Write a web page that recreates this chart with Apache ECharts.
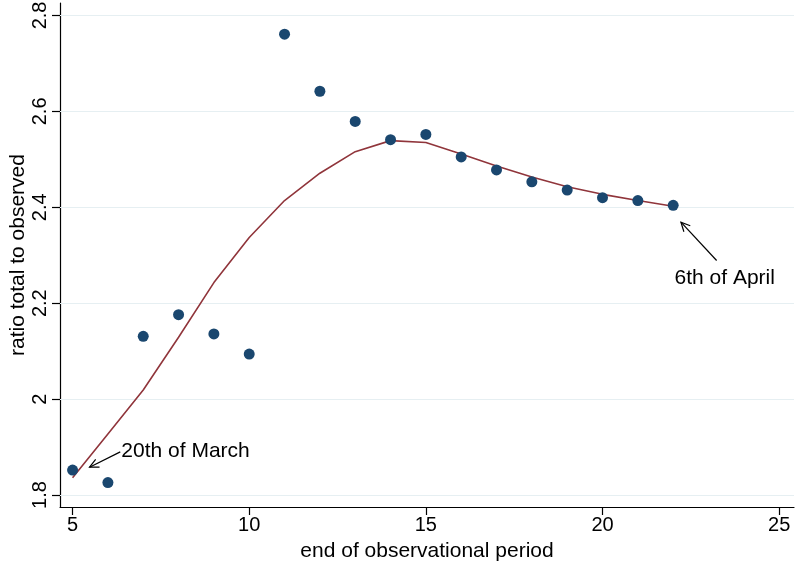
<!DOCTYPE html>
<html><head><meta charset="utf-8">
<script src="https://cdn.jsdelivr.net/npm/echarts@6/dist/echarts.min.js"></script>
<style>html,body{margin:0;padding:0;background:#fff}#c{width:795px;height:565px}</style>
</head><body><div id="c"></div>
<script>
// ---- data ----
const periods = [5,6,7,8,9,10,11,12,13,14,15,16,17,18,19,20,21,22];
const observedRatio = [1.852,1.826,2.131,2.176,2.136,2.094,2.761,2.642,2.579,2.541,2.552,2.505,2.478,2.453,2.436,2.420,2.414,2.404];
const fittedRatio = [1.836,1.927,2.019,2.129,2.243,2.337,2.414,2.471,2.516,2.539,2.535,2.511,2.486,2.463,2.443,2.427,2.414,2.402];
const xTicks = [5,10,15,20,25];
const yTicks = [1.8,2,2.2,2.4,2.6,2.8];
const annoLabels = ['20th of March','6th of April'];
const annoTextAt = [[6.38,1.892],[23.46,2.253]];
const annoArrowFrom = [[6.35,1.890],[23.23,2.289]];
const annoArrowTo = [[5.48,1.858],[22.22,2.369]];

const FONT = '"Liberation Sans", Arial, sans-serif';
const chart = echarts.init(document.getElementById('c'), null, {renderer:'canvas'});

const scatterData = periods.map((p,i)=>[p, observedRatio[i]]);
const lineData = periods.map((p,i)=>[p, fittedRatio[i]]);
const annoData = annoLabels.map((t,i)=>[annoTextAt[i][0],annoTextAt[i][1],annoArrowFrom[i][0],annoArrowFrom[i][1],annoArrowTo[i][0],annoArrowTo[i][1], i]);

chart.setOption({
  animation:false,
  backgroundColor:'#fff',
  grid:{left:60, right:1, top:3, bottom:58, containLabel:false, outerBoundsMode:'none'},
  xAxis:{
    type:'value', min:4.644, max:25.42,
    name:'end of observational period', nameLocation:'middle', nameGap:34, nameMoveOverlap:false,
    nameTextStyle:{fontFamily:FONT, fontSize:21, color:'#000'},
    axisLine:{show:true, onZero:false, lineStyle:{color:'#000', width:1.2}},
    axisTick:{show:true, inside:false, length:8, customValues:xTicks, lineStyle:{color:'#000', width:1.2}},
    axisLabel:{customValues:xTicks, margin:8, fontFamily:FONT, fontSize:20, color:'#000'},
    splitLine:{show:false}
  },
  yAxis:{
    type:'value', min:1.775, max:2.826,
    name:'ratio total to observed', nameLocation:'middle', nameGap:31, nameRotate:90, nameMoveOverlap:false,
    nameTextStyle:{fontFamily:FONT, fontSize:21, color:'#000'},
    axisLine:{show:true, onZero:false, lineStyle:{color:'#000', width:1.2}},
    axisTick:{show:true, inside:false, length:8, customValues:yTicks, lineStyle:{color:'#000', width:1.2}},
    axisLabel:{customValues:yTicks, rotate:90, margin:10, fontFamily:FONT, fontSize:20, color:'#000',
      formatter:v=>String(Math.round(v*10)/10)},
    splitLine:{show:false}
  },
  series:[
    {
      type:'line', data:lineData, showSymbol:false, symbol:'none', z:3,
      lineStyle:{color:'#90353b', width:1.6},
      markLine:{silent:true, symbol:['none','none'], label:{show:false},
        lineStyle:{color:'#e6eff2', width:1.2, type:'solid'},
        data:yTicks.map(v=>({yAxis:v})), z:1}
    },
    {
      type:'scatter', data:scatterData, symbol:'circle', symbolSize:11, z:4,
      itemStyle:{color:'#1a476f', opacity:1}
    },
    {
      type:'custom', data:annoData, z:5, silent:true,
      renderItem:function(params, api){
        const t = api.coord([api.value(0), api.value(1)]);
        const a = api.coord([api.value(2), api.value(3)]);
        const b = api.coord([api.value(4), api.value(5)]);
        const idx = api.value(6);
        const ang = Math.atan2(b[1]-a[1], b[0]-a[0]);
        const L = 10, w = 0.45;
        const p1 = [b[0]-L*Math.cos(ang-w), b[1]-L*Math.sin(ang-w)];
        const p2 = [b[0]-L*Math.cos(ang+w), b[1]-L*Math.sin(ang+w)];
        const st = {stroke:'#000', lineWidth:1.2, fill:null};
        return {type:'group', children:[
          {type:'line', shape:{x1:a[0],y1:a[1],x2:b[0],y2:b[1]}, style:st},
          {type:'polyline', shape:{points:[p1,b,p2]}, style:st},
          {type:'text', x:t[0], y:t[1], style:{text:annoLabels[idx], fontFamily:FONT, fontSize:21, fill:'#000',
            align: idx===0?'left':'center', verticalAlign:'middle'}}
        ]};
      }
    }
  ]
});
</script></body></html>
